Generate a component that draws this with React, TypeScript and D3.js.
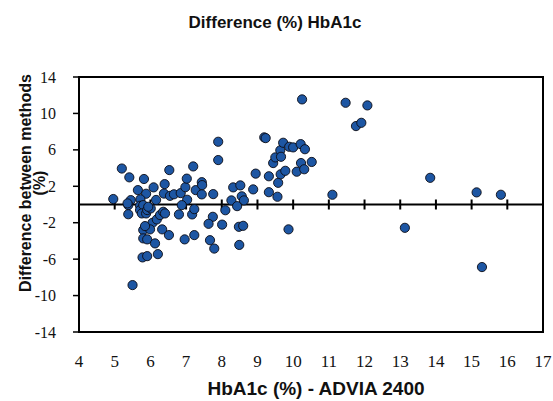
import React from "react";
import * as d3 from "d3";

const xValues: number[] = [
  4.96, 5.2, 5.41, 5.45, 5.38, 5.38, 5.65, 5.82, 5.88, 5.72,
  5.71, 5.71, 5.8, 5.76, 5.88, 5.91, 6.01, 6.16, 6.09, 6.06,
  6.18, 6.27, 6.36, 6.41, 5.8, 5.99, 5.85, 5.8, 5.91, 6.13,
  6.33, 6.52, 5.78, 5.91, 6.21, 5.5, 6.4, 6.38, 6.53, 6.55,
  6.66, 6.85, 6.98, 7.02, 7.03, 6.88, 7.2, 7.27, 7.44, 7.45,
  7.44, 7.76, 7.9, 7.9, 8.27, 8.32, 8.52, 8.56, 8.62, 8.43,
  8.1, 7.75, 7.63, 8.01, 8.48, 8.6, 8.88, 8.95, 9.19, 9.23,
  9.32, 9.32, 9.44, 9.5, 9.58, 9.56, 9.64, 9.65, 9.66, 9.72,
  9.78, 9.87, 9.89, 10.0, 10.1, 10.21, 10.22, 10.25, 10.31, 10.33,
  10.52, 6.8, 6.96, 7.17, 7.23, 7.23, 7.67, 7.79, 8.49, 11.47,
  12.08, 11.76, 11.91, 13.84, 11.1, 15.14, 15.82, 13.13, 15.29, 5.94,
  5.36,
];
const yValues: number[] = [
  0.6, 3.95, 2.98, 0.48, -0.07, -1.07, 1.58, 2.8, 1.18, 0.57,
  -0.14, -0.61, -0.07, -0.98, -0.98, -0.61, -0.43, 0.5, 1.88, -2.01,
  -1.64, -1.16, -0.8, -0.98, -2.81, -2.73, -2.37, -3.72, -3.83, -4.27,
  -2.73, -3.36, -5.81, -5.67, -5.45, -8.85, 2.24, 1.2, 3.78, 0.95,
  1.12, 1.25, 1.9, 2.84, 0.52, -0.07, 4.18, 1.58, 2.45, 2.13,
  1.11, 1.14, 6.89, 4.88, 0.45, 1.88, 2.1, 0.9, 0.45, -0.18,
  -0.63, -1.35, -2.12, -2.21, -2.45, -2.34, 1.66, 3.39, 7.37, 7.29,
  3.1, 1.35, 4.55, 5.17, 2.38, 0.85, 5.95, 3.32, 5.24, 6.78,
  3.7, -2.73, 6.34, 6.27, 3.6, 6.63, 4.55, 11.54, 3.87, 6.07,
  4.67, -1.09, -3.83, -1.09, -0.51, -3.36, -3.92, -4.84, -4.44, 11.17,
  10.88, 8.61, 8.97, 2.93, 1.07, 1.33, 1.07, -2.56, -6.87, -0.25,
  0.12,
];
const xTicks: number[] = [4, 5, 6, 7, 8, 9, 10, 11, 12, 13, 14, 15, 16, 17];
const yTicks: number[] = [14, 10, 6, 2, -2, -6, -10, -14];
const chartTitle = "Difference (%) HbA1c";
const xTitle = "HbA1c (%) - ADVIA 2400";
const yTitleLines: string[] = ["Difference between methods", "(%)"];

const W = 553;
const H = 401;
const left = 79;
const right = 543;
const top = 77;
const bottom = 332;

const sans = "Liberation Sans, Arial, Helvetica, sans-serif";
const serif = "'Liberation Serif', 'DejaVu Serif', serif";

export default function App() {
  const x = d3.scaleLinear().domain([4, 17]).range([left, right]);
  const y = d3.scaleLinear().domain([-14, 14]).range([bottom, top]);
  const points = xValues.map((v, i) => ({ x: v, y: yValues[i] }));
  const y0 = y(0);
  const innerTicks = xTicks.filter((t) => t > 4 && t < 17);

  return (
    <svg
      width={W}
      height={H}
      style={{ position: "absolute", left: 0, top: 0, background: "#fff" }}
    >
      <rect x={0} y={0} width={W} height={H} fill="#fff" />
      <text
        x={275}
        y={28}
        textAnchor="middle"
        style={{ fontFamily: sans, fontWeight: 700, fontSize: "17px" }}
        fill="#111"
      >
        {chartTitle}
      </text>

      {/* y ticks & labels */}
      {yTicks.map((t) => (
        <g key={"y" + t}>
          <line x1={left - 6} x2={left} y1={y(t)} y2={y(t)} stroke="#000" strokeWidth={1.5} />
          <text
            x={56}
            y={y(t)}
            dy="0.35em"
            textAnchor="end"
            style={{ fontFamily: serif, fontSize: "16px" }}
            fill="#111"
          >
            {t}
          </text>
        </g>
      ))}

      {/* x labels */}
      {xTicks.map((t) => (
        <text
          key={"x" + t}
          x={x(t)}
          y={367}
          textAnchor="middle"
          style={{ fontFamily: serif, fontSize: "17px" }}
          fill="#111"
        >
          {t}
        </text>
      ))}

      {/* zero line and ticks */}
      <line x1={left} x2={right} y1={y0} y2={y0} stroke="#000" strokeWidth={2} />
      {innerTicks.map((t) => (
        <line
          key={"t" + t}
          x1={x(t)}
          x2={x(t)}
          y1={y0 - 5}
          y2={y0 + 5}
          stroke="#000"
          strokeWidth={2}
        />
      ))}

      {/* points */}
      {points.map((p, i) => (
        <circle
          key={i}
          cx={x(p.x)}
          cy={y(p.y)}
          r={4.6}
          fill="#1d56a3"
          stroke="#0b0b14"
          strokeWidth={0.9}
        />
      ))}

      {/* frame */}
      <rect
        x={left}
        y={top}
        width={right - left}
        height={bottom - top}
        fill="none"
        stroke="#000"
        strokeWidth={2}
      />

      {/* axis titles */}
      <text
        x={316}
        y={395}
        textAnchor="middle"
        style={{ fontFamily: sans, fontWeight: 700, fontSize: "19px" }}
        fill="#111"
      >
        {xTitle}
      </text>
      {yTitleLines.map((l, i) => (
        <text
          key={l}
          transform={`translate(${31 + i * 14},183) rotate(-90)`}
          textAnchor="middle"
          style={{ fontFamily: sans, fontWeight: 700, fontSize: "16px" }}
          fill="#111"
        >
          {l}
        </text>
      ))}
    </svg>
  );
}
